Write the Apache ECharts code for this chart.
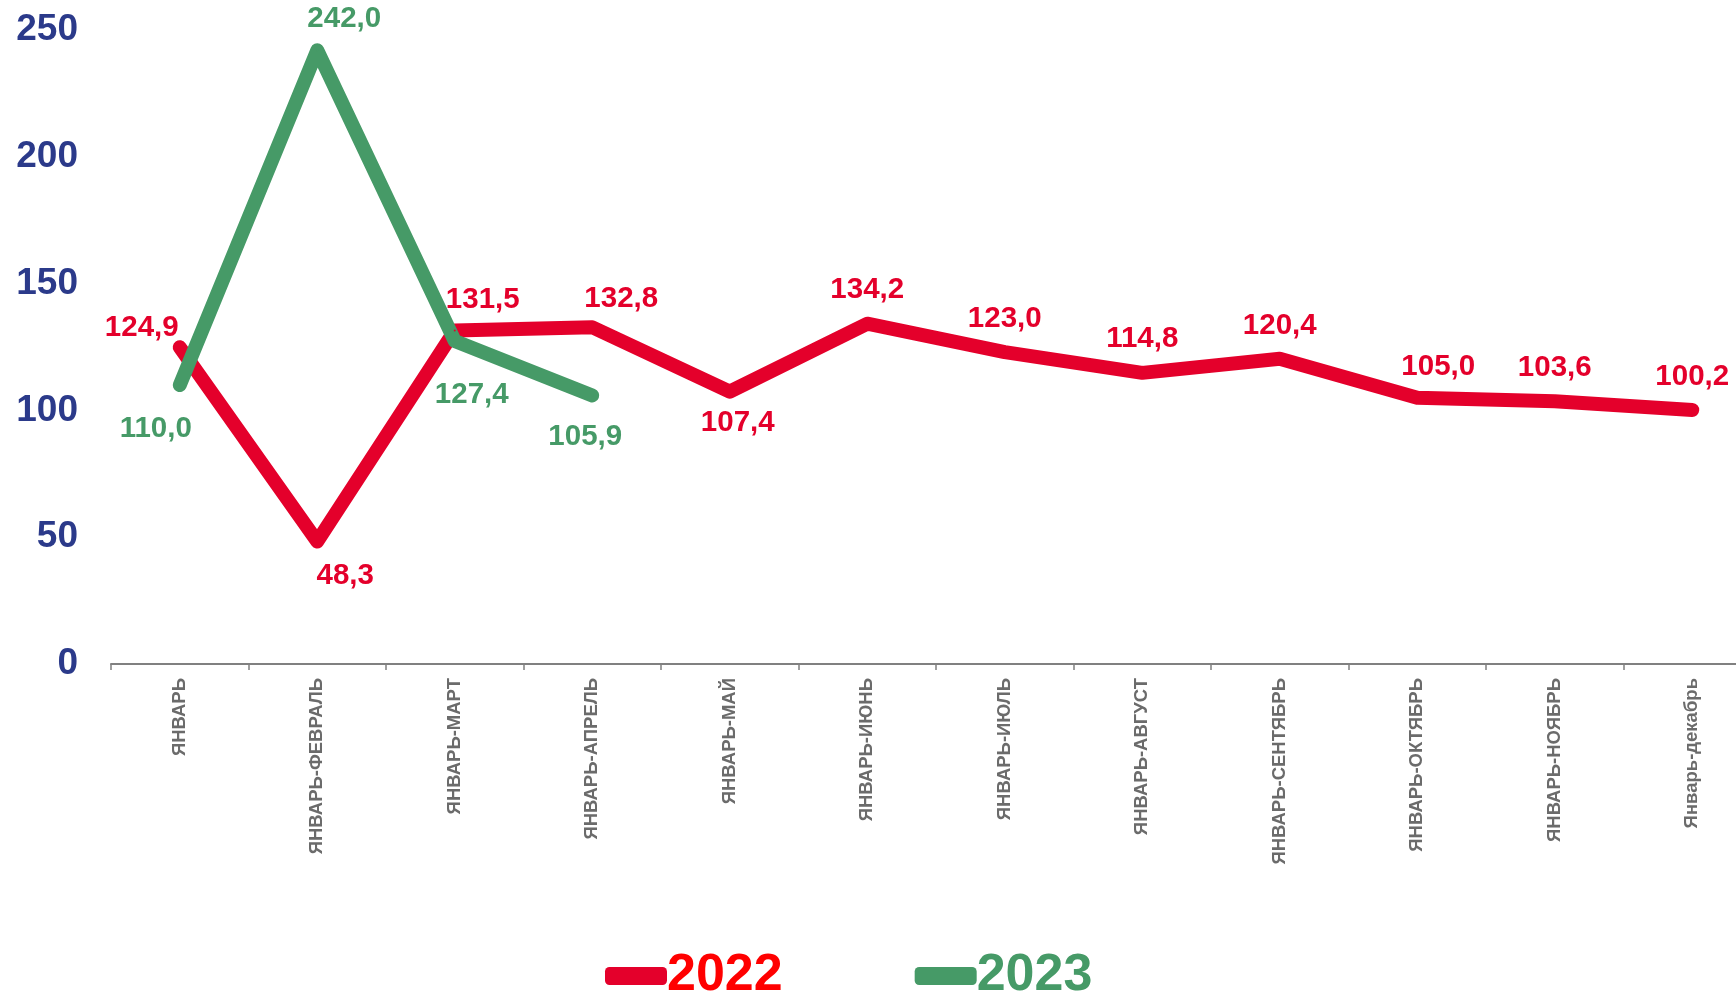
<!DOCTYPE html>
<html>
<head>
<meta charset="utf-8">
<script src="https://cdn.jsdelivr.net/npm/echarts@6/dist/echarts.min.js"></script>
<style>
    html, body { margin: 0; padding: 0; background: #fff; overflow: hidden; }
    #main { width: 1800px; height: 991px; }
</style>
</head>
<body>
<div id="main"></div>
<script>
// данные
var months = ['ЯНВАРЬ', 'ЯНВАРЬ-ФЕВРАЛЬ', 'ЯНВАРЬ-МАРТ', 'ЯНВАРЬ-АПРЕЛЬ', 'ЯНВАРЬ-МАЙ', 'ЯНВАРЬ-ИЮНЬ',
    'ЯНВАРЬ-ИЮЛЬ', 'ЯНВАРЬ-АВГУСТ', 'ЯНВАРЬ-СЕНТЯБРЬ', 'ЯНВАРЬ-ОКТЯБРЬ', 'ЯНВАРЬ-НОЯБРЬ', 'Январь-декабрь'];
var values2022 = [124.9, 48.3, 131.5, 132.8, 107.4, 134.2, 123.0, 114.8, 120.4, 105.0, 103.6, 100.2];
var values2023 = [110.0, 242.0, 127.4, 105.9];
var yTicks = [0, 50, 100, 150, 200, 250];

// сдвиги подписей
var shift2022 = [[-38, -19], [28, 34], [28, -31], [29, -28], [8, 31], [0, -34],
    [0, -33], [0, -34], [0, -33], [21, -31], [0, -33], [0, -33]];
var shift2023 = [[-24, 44], [27, -31], [17, 54], [-7, 41]];

var red = '#E4002B';
var green = '#469A67';

function fmt(p) {
    return p.value.toFixed(1).replace('.', ',');
}

function makeData(vals, shifts) {
    var arr = [];
    for (var i = 0; i < vals.length; i++) {
        arr.push({
            value: vals[i],
            label: { offset: shifts[i] }
        });
    }
    return arr;
}

var chartDom = document.getElementById('main');
var myChart = echarts.init(chartDom);
var option;

option = {
    animation: false,
    grid: {
        left: 111,
        top: 30,
        width: 1650,
        height: 634
    },
    legend: {
        left: 600,
        top: 945,
        itemWidth: 62,
        itemHeight: 18,
        itemGap: 132,
        icon: 'roundRect',
        textStyle: {
            fontFamily: 'Liberation Sans',
            fontWeight: 'bold',
            fontSize: 52,
            padding: [0, 0, 0, -5]
        },
        data: [
            { name: '2022', textStyle: { color: '#FF0000' } },
            { name: '2023', textStyle: { color: green } }
        ]
    },
    xAxis: {
        type: 'category',
        data: months,
        boundaryGap: true,
        axisLine: { lineStyle: { color: '#808080', width: 2 } },
        axisTick: { show: true, length: 6, lineStyle: { color: '#808080', width: 1.5 } },
        axisLabel: {
            rotate: 90,
            interval: 0,
            margin: 14,
            color: '#6b6b6b',
            fontFamily: 'Liberation Sans',
            fontWeight: 'bold',
            fontSize: 18.5
        }
    },
    yAxis: {
        type: 'value',
        min: yTicks[0],
        max: yTicks[yTicks.length - 1],
        interval: 50,
        splitLine: { show: false },
        axisLine: { show: false },
        axisTick: { show: false },
        axisLabel: {
            margin: 33,
            color: '#2B3A8A',
            fontFamily: 'Liberation Sans',
            fontWeight: 'bold',
            fontSize: 37
        }
    },
    series: [
        {
            name: '2022',
            type: 'line',
            data: makeData(values2022, shift2022),
            symbol: 'circle',
            symbolSize: 2,
            itemStyle: { color: red },
            lineStyle: { color: red, width: 14, cap: 'round', join: 'round' },
            label: {
                show: true,
                position: 'inside',
                formatter: fmt,
                color: red,
                fontFamily: 'Liberation Sans',
                fontWeight: 'bold',
                fontSize: 29.5
            }
        },
        {
            name: '2023',
            type: 'line',
            data: makeData(values2023, shift2023),
            symbol: 'circle',
            symbolSize: 2,
            itemStyle: { color: green },
            lineStyle: { color: green, width: 14, cap: 'round', join: 'round' },
            label: {
                show: true,
                position: 'inside',
                formatter: fmt,
                color: green,
                fontFamily: 'Liberation Sans',
                fontWeight: 'bold',
                fontSize: 29.5
            }
        }
    ]
};

option && myChart.setOption(option);
</script>
</body>
</html>
